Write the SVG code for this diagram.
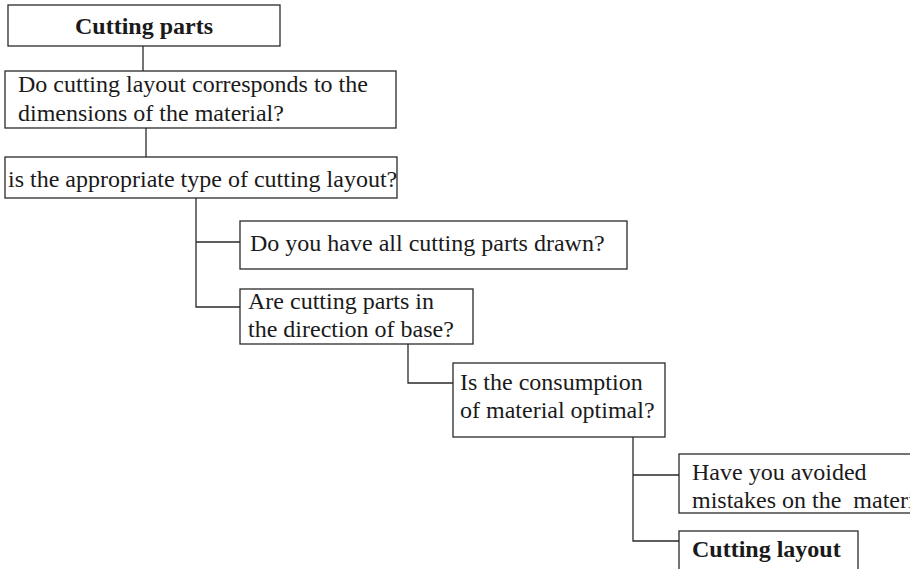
<svg xmlns="http://www.w3.org/2000/svg" width="910" height="569" viewBox="0 0 910 569">
  <style>
    .box { fill: #fff; stroke: #2a2a2a; stroke-width: 1.3; }
    .wire { fill: none; stroke: #2a2a2a; stroke-width: 1.3; }
    text { font-family: "Liberation Serif", "Times New Roman", serif; font-size: 24px; fill: #1a1a1a; white-space: pre; }
    .b { font-weight: bold; }
  </style>
  <rect width="910" height="569" fill="#fff"/>
  <g id="connectors">
    <path class="wire" d="M143,46 V71"/>
    <path class="wire" d="M146,128 V157"/>
    <path class="wire" d="M196,198 V307 H240 M196,242 H240"/>
    <path class="wire" d="M408,344 V383 H453"/>
    <path class="wire" d="M633,437 V541 H679 M633,475 H679"/>
  </g>
  <g id="cutting-parts">
    <rect class="box" x="8" y="5" width="272" height="41"/>
    <text class="b" x="144" y="34" text-anchor="middle">Cutting parts</text>
  </g>
  <g id="layout-dimensions">
    <rect class="box" x="5" y="71" width="391" height="57"/>
    <text x="18" y="92">Do cutting layout corresponds to the</text>
    <text x="18" y="121">dimensions of the material?</text>
  </g>
  <g id="layout-type">
    <rect class="box" x="5" y="157" width="392" height="41"/>
    <text x="8" y="187">is the appropriate type of cutting layout?</text>
  </g>
  <g id="parts-drawn">
    <rect class="box" x="240" y="221" width="387" height="48"/>
    <text x="250" y="251">Do you have all cutting parts drawn?</text>
  </g>
  <g id="parts-direction">
    <rect class="box" x="240" y="289" width="233" height="55"/>
    <text x="248" y="309">Are cutting parts in</text>
    <text x="248" y="337">the direction of base?</text>
  </g>
  <g id="consumption">
    <rect class="box" x="453" y="363" width="212" height="74"/>
    <text x="460" y="390">Is the consumption</text>
    <text x="460" y="418">of material optimal?</text>
  </g>
  <g id="mistakes">
    <rect class="box" x="679" y="454" width="260" height="59"/>
    <text x="692" y="480">Have you avoided</text>
    <text x="692" y="508" xml:space="preserve">mistakes on the  material?</text>
  </g>
  <g id="cutting-layout">
    <rect class="box" x="679" y="531" width="179" height="60"/>
    <text class="b" x="692" y="557">Cutting layout</text>
  </g>
</svg>
